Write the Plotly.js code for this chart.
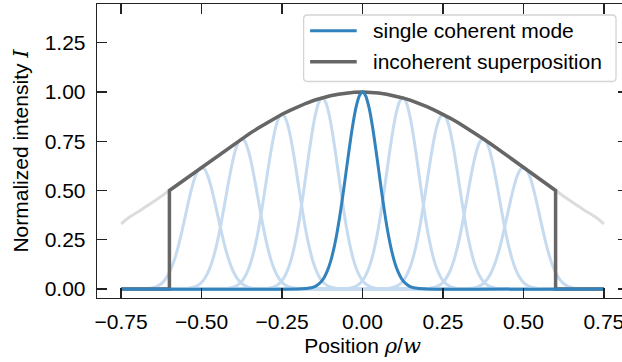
<!DOCTYPE html>
<html>
<head>
<meta charset="utf-8">
<script src="https://cdn.plot.ly/plotly-3.0.1.min.js"></script>
<style>
html,body{margin:0;padding:0;overflow:hidden;background:#fff;}
#chart{width:640px;height:362px;}
</style>
</head>
<body>
<div id="chart"></div>
<script>
// Envelope (Gaussian beam intensity), x >= 0 half (symmetric)
const envXHalf = [0,0.025,0.05,0.075,0.1,0.125,0.15,0.175,0.2,0.225,0.25,0.275,0.3,0.325,0.35,0.375,0.4,0.425,0.45,0.475,0.5,0.525,0.55,0.575,0.6,0.625,0.65,0.675,0.7,0.725,0.75];
const envYHalf = [1.0,0.999,0.995,0.989,0.981,0.970,0.958,0.943,0.926,0.907,0.887,0.865,0.841,0.816,0.790,0.763,0.735,0.706,0.677,0.648,0.618,0.588,0.559,0.529,0.5,0.471,0.443,0.416,0.389,0.364,0.33];
// Aperture cut-off of the incoherent superposition
const apertureHalf = 0.6;
// Coherent modes: centres and peak heights
const modeCenters = [-0.5,-0.375,-0.25,-0.125,0,0.125,0.25,0.375,0.5];
const modePeaks   = [0.618,0.763,0.887,0.970,1.0,0.970,0.887,0.763,0.618];
// Single-mode profile (offset from centre -> relative intensity)
const profileOffset = [0,0.01,0.02,0.03,0.04,0.05,0.06,0.07,0.08,0.09,0.10,0.11,0.12,0.13,0.14,0.15,0.17,0.20];
const profileValue  = [1.0,0.980,0.923,0.835,0.726,0.607,0.487,0.375,0.278,0.198,0.135,0.089,0.056,0.034,0.020,0.011,0.003,0.0];
const xMin = -0.75, xMax = 0.75;
const tickVals = [-0.75,-0.5,-0.25,0,0.25,0.5,0.75];
const tickText = ['\u22120.75','\u22120.50','\u22120.25','0.00','0.25','0.50','0.75'];
const yTickVals = [0,0.25,0.5,0.75,1.0,1.25];
const yTickText = ['0.00','0.25','0.50','0.75','1.00','1.25'];
const legendLabels = ['single coherent mode','incoherent superposition'];

const C_MODE = '#3182bd', C_MODE_LIGHT = '#c6dbef', C_INC = '#666666', C_ENV = '#dcdcdc';

// full envelope arrays
const envX = [], envY = [];
for (let i = envXHalf.length - 1; i > 0; i--) { envX.push(-envXHalf[i]); envY.push(envYHalf[i]); }
for (let i = 0; i < envXHalf.length; i++) { envX.push(envXHalf[i]); envY.push(envYHalf[i]); }

// incoherent superposition (truncated envelope)
const incX = [xMin], incY = [0];
incX.push(-apertureHalf); incY.push(0);
for (let i = 0; i < envX.length; i++) {
  if (Math.abs(envX[i]) <= apertureHalf + 1e-9) { incX.push(envX[i]); incY.push(envY[i]); }
}
incX.push(apertureHalf); incY.push(0);
incX.push(xMax); incY.push(0);

function modeTrace(c, a) {
  const xs = [xMin], ys = [0];
  for (let i = profileOffset.length - 1; i > 0; i--) {
    const x = c - profileOffset[i];
    if (x > xMin) { xs.push(x); ys.push(a * profileValue[i]); }
  }
  for (let i = 0; i < profileOffset.length; i++) {
    const x = c + profileOffset[i];
    if (x < xMax) { xs.push(x); ys.push(a * profileValue[i]); }
  }
  xs.push(xMax); ys.push(0);
  return {xs, ys};
}

const traces = [];
traces.push({x: envX, y: envY, mode: 'lines', line: {color: C_ENV, width: 3, shape: 'spline'}, showlegend: false, hoverinfo: 'skip'});
modeCenters.forEach((c, k) => {
  if (c === 0) return;
  const m = modeTrace(c, modePeaks[k]);
  traces.push({x: m.xs, y: m.ys, mode: 'lines', line: {color: C_MODE_LIGHT, width: 3, shape: 'spline', smoothing: 0.6}, showlegend: false, hoverinfo: 'skip'});
});
traces.push({x: incX, y: incY, mode: 'lines', name: legendLabels[1], showlegend: false, line: {color: C_INC, width: 3.5}});
{
  const k = modeCenters.indexOf(0);
  const m = modeTrace(0, modePeaks[k]);
  traces.push({x: m.xs, y: m.ys, mode: 'lines', name: legendLabels[0], showlegend: false, line: {color: C_MODE, width: 3, shape: 'spline', smoothing: 0.6}});
}

// ---- pixel helpers for the hand-drawn legend box ----
const W = 640, H = 362;
const M = {l: 96.5, r: 11.5, t: 4, b: 64};
const PW = W - M.l - M.r, PH = H - M.t - M.b;
const px = v => (v - M.l) / PW;
const py = v => (H - M.b - v) / PH;

function roundRect(x0, y0, x1, y1, r) {
  const X0 = px(x0), X1 = px(x1), Y0 = py(y0), Y1 = py(y1);
  const rx = r / PW, ry = r / PH;
  return `M${X0+rx},${Y0} L${X1-rx},${Y0} Q${X1},${Y0} ${X1},${Y0-ry} L${X1},${Y1+ry} Q${X1},${Y1} ${X1-rx},${Y1} L${X0+rx},${Y1} Q${X0},${Y1} ${X0},${Y1+ry} L${X0},${Y0-ry} Q${X0},${Y0} ${X0+rx},${Y0} Z`;
}

const legBox = {x0: 303.5, y0: 15, x1: 616.5, y1: 81.5};
const legRows = [30.7, 61.7];
const legLineX = [310, 356.7];
const legTextX = 372.3;
const legColors = [C_MODE, C_INC];
const legWidths = [3, 3.5];

const shapes = [{
  type: 'path', xref: 'paper', yref: 'paper', path: roundRect(legBox.x0, legBox.y0, legBox.x1, legBox.y1, 4),
  fillcolor: 'rgba(255,255,255,0.85)', line: {color: '#d4d4d4', width: 1.3}, layer: 'above'
}];
legRows.forEach((yy, i) => {
  shapes.push({type: 'line', xref: 'paper', yref: 'paper', x0: px(legLineX[0]), x1: px(legLineX[1]), y0: py(yy), y1: py(yy),
    line: {color: legColors[i], width: legWidths[i]}, layer: 'above'});
});

const font = {family: '"Liberation Sans", Arial, sans-serif', size: 21, color: '#000'};
const annotations = legRows.map((yy, i) => ({
  xref: 'paper', yref: 'paper', x: px(legTextX), y: py(yy), xanchor: 'left', yanchor: 'middle',
  text: legendLabels[i], showarrow: false, font: font, borderpad: 0
}));

const axisCommon = {
  showgrid: false, zeroline: false, showline: true, linecolor: '#222', linewidth: 1.3,
  mirror: 'ticks', ticks: 'inside', ticklen: 10, tickwidth: 1.3, tickcolor: '#222',
  tickfont: font
};
const layout = {
  width: W, height: H,
  margin: {l: M.l, r: M.r, t: M.t, b: M.b, pad: 0},
  paper_bgcolor: '#fff', plot_bgcolor: '#fff',
  font: font,
  xaxis: Object.assign({}, axisCommon, {
    range: [-0.825, 0.825], tickvals: tickVals, ticktext: tickText, ticklabelstandoff: 4,
    title: {text: 'Position <i style="font-family:\'DejaVu Serif\'">ρ</i>/<i style="font-family:\'DejaVu Serif\'">w</i>', font: font, standoff: 6}
  }),
  yaxis: Object.assign({}, axisCommon, {
    range: [-0.046, 1.447], tickvals: yTickVals, ticktext: yTickText, ticklabelstandoff: 6,
    title: {text: 'Normalized intensity <i style="font-family:\'DejaVu Serif\'">I</i>', font: font, standoff: 10}
  }),
  shapes: shapes,
  annotations: annotations,
  showlegend: false
};
Plotly.newPlot('chart', traces, layout, {staticPlot: true, displayModeBar: false});
</script>
</body>
</html>
